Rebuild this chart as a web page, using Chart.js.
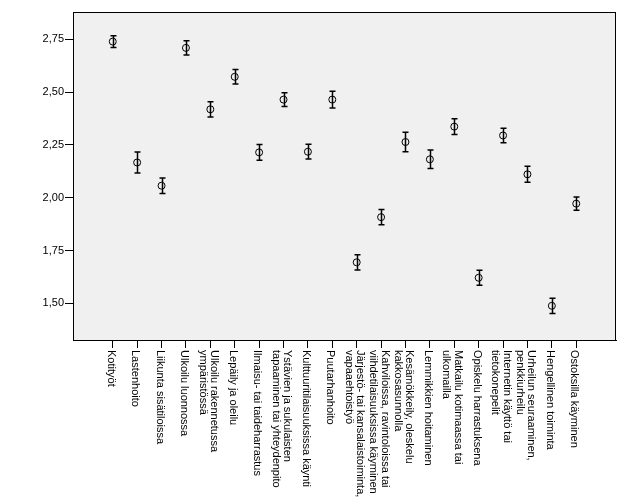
<!DOCTYPE html>
<html>
<head>
<meta charset="utf-8">
<script src="https://cdn.jsdelivr.net/npm/chart.js@4"></script>
<style>
  body { margin: 0; background: #fff; }
</style>
</head>
<body>
<canvas id="chart" width="629" height="504"></canvas>
<script>
var categories = [
    ['Kotityöt'],
    ['Lastenhoito'],
    ['Liikunta sisätiloissa'],
    ['Ulkoilu luonnossa'],
    ['Ulkoilu rakennetussa', 'ympäristössä'],
    ['Lepäily ja oleilu'],
    ['Ilmaisu- tai taideharrastus'],
    ['Ystävien ja sukulaisten', 'tapaaminen tai yhteydenpito'],
    ['Kulttuuritilaisuuksissa käynti'],
    ['Puutarhanhoito'],
    ['Järjestö- tai kansalaistoiminta,', 'vapaaehtoistyö'],
    ['Kahviloissa, ravintoloissa tai', 'viihdetilaisuuksissa käyminen'],
    ['Kesämökkeily, oleskelu', 'kakkosasunnolla'],
    ['Lemmikkien hoitaminen'],
    ['Matkailu kotimaassa tai', 'ulkomailla'],
    ['Opiskelu harrastuksena'],
    ['Internetin käyttö tai', 'tietokonepelit'],
    ['Urheilun seuraaminen,', 'penkkiurheilu'],
    ['Hengellinen toiminta'],
    ['Ostoksilla käyminen']
]
var means = [2.740, 2.167, 2.057, 2.710, 2.419, 2.573, 2.215, 2.465, 2.218, 2.465,
             1.694, 1.908, 2.264, 2.182, 2.337, 1.621, 2.295, 2.111, 1.488, 1.972]
var errors = [0.028, 0.050, 0.037, 0.034, 0.036, 0.034, 0.037, 0.033, 0.035, 0.040,
              0.036, 0.036, 0.046, 0.044, 0.037, 0.036, 0.034, 0.038, 0.036, 0.031]
var yTicks = [1.50, 1.75, 2.00, 2.25, 2.50, 2.75]

var FONT = '"Liberation Sans", Arial, sans-serif'

var points = []
for (var i = 0; i < means.length; i++) {
    points.push({ x: i, y: means[i] })
}

// grey plot box + frame
var boxPlugin = {
    id: 'box',
    beforeDatasetsDraw: function (chart) {
        var a = chart.chartArea
        var ctx = chart.ctx
        ctx.save()
        ctx.fillStyle = '#f0f0f0'
        ctx.fillRect(a.left, a.top, a.right - a.left, a.bottom - a.top)
        ctx.restore()
    },
    afterDraw: function (chart) {
        var a = chart.chartArea
        var ctx = chart.ctx
        ctx.save()
        ctx.strokeStyle = '#000'
        ctx.lineWidth = 1
        ctx.strokeRect(Math.round(a.left) + 0.5, Math.round(a.top) + 0.5,
            Math.round(a.right - a.left) - 1, Math.round(a.bottom - a.top))
        ctx.restore()
    }
}

// error bars from the data arrays, placed with the chart's scales
var errorBarPlugin = {
    id: 'errorBars',
    afterDatasetsDraw: function (chart) {
        var ctx = chart.ctx
        var xs = chart.scales.x
        var ys = chart.scales.y
        ctx.save()
        ctx.strokeStyle = '#000'
        ctx.lineWidth = 1.5
        for (var i = 0; i < means.length; i++) {
            var x = Math.round(xs.getPixelForValue(i)) + 0.5
            var top = ys.getPixelForValue(means[i] + errors[i])
            var bot = ys.getPixelForValue(means[i] - errors[i])
            ctx.beginPath()
            ctx.moveTo(x, top)
            ctx.lineTo(x, bot)
            ctx.moveTo(x - 3, top)
            ctx.lineTo(x + 3, top)
            ctx.moveTo(x - 3, bot)
            ctx.lineTo(x + 3, bot)
            ctx.stroke()
        }
        ctx.restore()
    }
}

// vertical category labels, reading top to bottom
var xLabelPlugin = {
    id: 'xLabels',
    afterDraw: function (chart) {
        var ctx = chart.ctx
        var xs = chart.scales.x
        var y0 = chart.chartArea.bottom + 10
        var lh = 11.5
        ctx.save()
        ctx.fillStyle = '#000'
        ctx.font = '11px ' + FONT
        ctx.textAlign = 'left'
        ctx.textBaseline = 'middle'
        for (var i = 0; i < categories.length; i++) {
            var lines = categories[i]
            var x = xs.getPixelForValue(i) - 2
            ctx.save()
            ctx.translate(x, y0)
            ctx.rotate(Math.PI / 2)
            for (var j = 0; j < lines.length; j++) {
                var off = (j - (lines.length - 1) / 2) * lh
                ctx.fillText(lines[j], 0, off)
            }
            ctx.restore()
        }
        ctx.restore()
    }
}

var ctx = document.getElementById('chart').getContext('2d')
var myChart = new Chart(ctx, {
    type: 'scatter',
    data: {
        datasets: [{
            data: points,
            pointStyle: 'circle',
            pointRadius: 3.5,
            pointHoverRadius: 3.5,
            pointBorderWidth: 1,
            pointBorderColor: '#000',
            pointBackgroundColor: 'rgba(0,0,0,0)'
        }]
    },
    plugins: [boxPlugin, errorBarPlugin, xLabelPlugin],
    options: {
        responsive: false,
        animation: false,
        layout: { padding: { left: 0, right: 13, top: 12, bottom: 0 } },
        plugins: {
            legend: { display: false },
            tooltip: { enabled: false }
        },
        scales: {
            x: {
                type: 'linear',
                min: -1.63,
                max: 20.63,
                afterBuildTicks: function (scale) {
                    scale.ticks = categories.map(function (c, i) { return { value: i } })
                },
                afterFit: function (scale) { scale.height = 164 },
                ticks: { display: false },
                grid: {
                    display: true,
                    drawOnChartArea: false,
                    drawTicks: true,
                    tickLength: 8,
                    color: '#000'
                },
                border: { display: true, color: '#000' }
            },
            y: {
                min: 1.326,
                max: 2.88,
                afterBuildTicks: function (scale) {
                    scale.ticks = yTicks.map(function (v) { return { value: v } })
                },
                afterFit: function (scale) { scale.width = 73 },
                ticks: {
                    color: '#000',
                    padding: 1,
                    font: { family: FONT, size: 11 },
                    callback: function (v) { return v.toFixed(2).replace('.', ',') }
                },
                grid: {
                    display: true,
                    drawOnChartArea: false,
                    drawTicks: true,
                    tickLength: 8,
                    color: '#000'
                },
                border: { display: true, color: '#000' }
            }
        }
    }
})
</script>
</body>
</html>
